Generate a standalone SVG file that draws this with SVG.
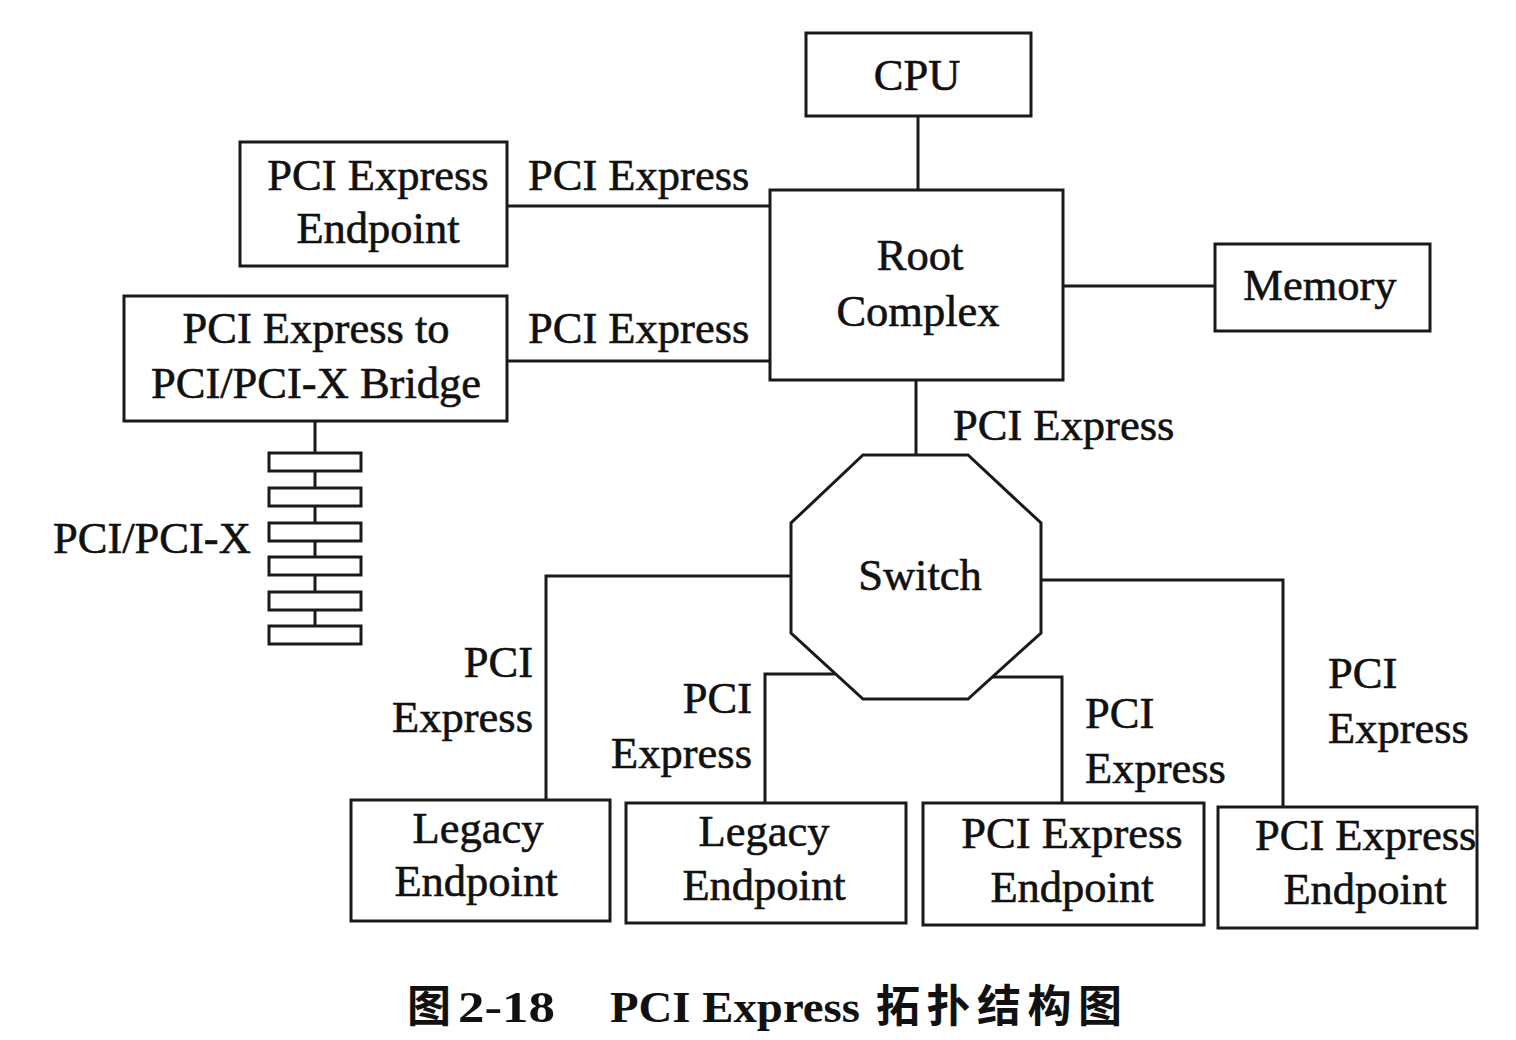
<svg xmlns="http://www.w3.org/2000/svg" width="1516" height="1040" viewBox="0 0 1516 1040">
<style>
.box{fill:#fff;stroke:#1a1a1a;stroke-width:3}
.ln{fill:none;stroke:#1a1a1a;stroke-width:3}
.t{font-family:"Liberation Serif","Times New Roman",serif;font-size:44.5px;fill:#111;stroke:#111;stroke-width:0.6}
.m{text-anchor:middle}
.r{text-anchor:end}
.cap{font-family:"Liberation Serif","Noto Sans CJK SC",serif;font-weight:bold;font-size:44px;fill:#111}
.capc{font-family:"Noto Sans CJK SC",sans-serif;font-weight:bold;font-size:44px;fill:#111}
</style>
<rect width="1516" height="1040" fill="#fff"/>
<g id="connectors">
<line class="ln" x1="918" y1="116" x2="918" y2="190"/>
<line class="ln" x1="1063" y1="286" x2="1215" y2="286"/>
<line class="ln" x1="507" y1="206" x2="770" y2="206"/>
<line class="ln" x1="507" y1="361" x2="770" y2="361"/>
<line class="ln" x1="916" y1="380" x2="916" y2="456"/>
<polyline class="ln" points="791,576 546,576 546,800"/>
<polyline class="ln" points="1041,580 1283,580 1283,807"/>
<polyline class="ln" points="835,674 765,674 765,803"/>
<polyline class="ln" points="992,677 1062,677 1062,803"/>
<line class="ln" x1="315" y1="421" x2="315" y2="636"/>
<text class="t" x="528" y="190">PCI Express</text>
<text class="t" x="528" y="343">PCI Express</text>
<text class="t" x="953" y="440">PCI Express</text>
<text class="t r" x="533" y="677">PCI</text>
<text class="t r" x="533" y="732">Express</text>
<text class="t r" x="752" y="713">PCI</text>
<text class="t r" x="752" y="768">Express</text>
<text class="t" x="1085" y="728">PCI</text>
<text class="t" x="1085" y="783">Express</text>
<text class="t" x="1328" y="688">PCI</text>
<text class="t" x="1328" y="743">Express</text>
</g>
<g id="cpu">
<rect class="box" x="806" y="33" width="225" height="83"/>
<text class="t m" x="917" y="90">CPU</text>
</g>
<g id="root-complex">
<rect class="box" x="770" y="190" width="293" height="190"/>
<text class="t m" x="920" y="270">Root</text>
<text class="t m" x="918" y="326">Complex</text>
</g>
<g id="memory">
<rect class="box" x="1215" y="244" width="215" height="87"/>
<text class="t m" x="1320" y="300">Memory</text>
</g>
<g id="endpoint-top">
<rect class="box" x="240" y="142" width="267" height="124"/>
<text class="t m" x="378" y="190">PCI Express</text>
<text class="t m" x="378" y="243">Endpoint</text>
</g>
<g id="bridge">
<rect class="box" x="124" y="296" width="383" height="125"/>
<text class="t m" x="316" y="343">PCI Express to</text>
<text class="t m" x="316" y="398">PCI/PCI-X Bridge</text>
</g>
<g id="pci-bus">
<rect class="box" x="269" y="453" width="92" height="18"/>
<rect class="box" x="269" y="488" width="92" height="18"/>
<rect class="box" x="269" y="523" width="92" height="18"/>
<rect class="box" x="269" y="557" width="92" height="18"/>
<rect class="box" x="269" y="592" width="92" height="18"/>
<rect class="box" x="269" y="626" width="92" height="18"/>
<text class="t" x="53" y="553">PCI/PCI-X</text>
</g>
<g id="switch">
<polygon class="box" points="863,455 968,455 1041,523 1041,633 968,699 863,699 791,633 791,523"/>
<text class="t m" x="920" y="590">Switch</text>
</g>
<g id="legacy-1">
<rect class="box" x="351" y="800" width="259" height="121"/>
<text class="t m" x="478" y="843">Legacy</text>
<text class="t m" x="476" y="896">Endpoint</text>
</g>
<g id="legacy-2">
<rect class="box" x="626" y="803" width="280" height="120"/>
<text class="t m" x="764" y="846">Legacy</text>
<text class="t m" x="764" y="900">Endpoint</text>
</g>
<g id="endpoint-3">
<rect class="box" x="923" y="803" width="281" height="122"/>
<text class="t m" x="1072" y="848">PCI Express</text>
<text class="t m" x="1072" y="902">Endpoint</text>
</g>
<g id="endpoint-4">
<rect class="box" x="1218" y="807" width="259" height="121"/>
<text class="t" x="1255" y="850">PCI Express</text>
<text class="t m" x="1365" y="904">Endpoint</text>
</g>
<g id="caption">
<text class="capc" x="407" y="1022">图</text>
<text class="cap" x="458" y="1022" textLength="97" lengthAdjust="spacingAndGlyphs">2-18</text>
<text class="cap" x="610" y="1022" textLength="250" lengthAdjust="spacingAndGlyphs">PCI Express</text>
<text class="capc" x="876" y="1022" textLength="246">拓扑结构图</text>
</g>
</svg>
